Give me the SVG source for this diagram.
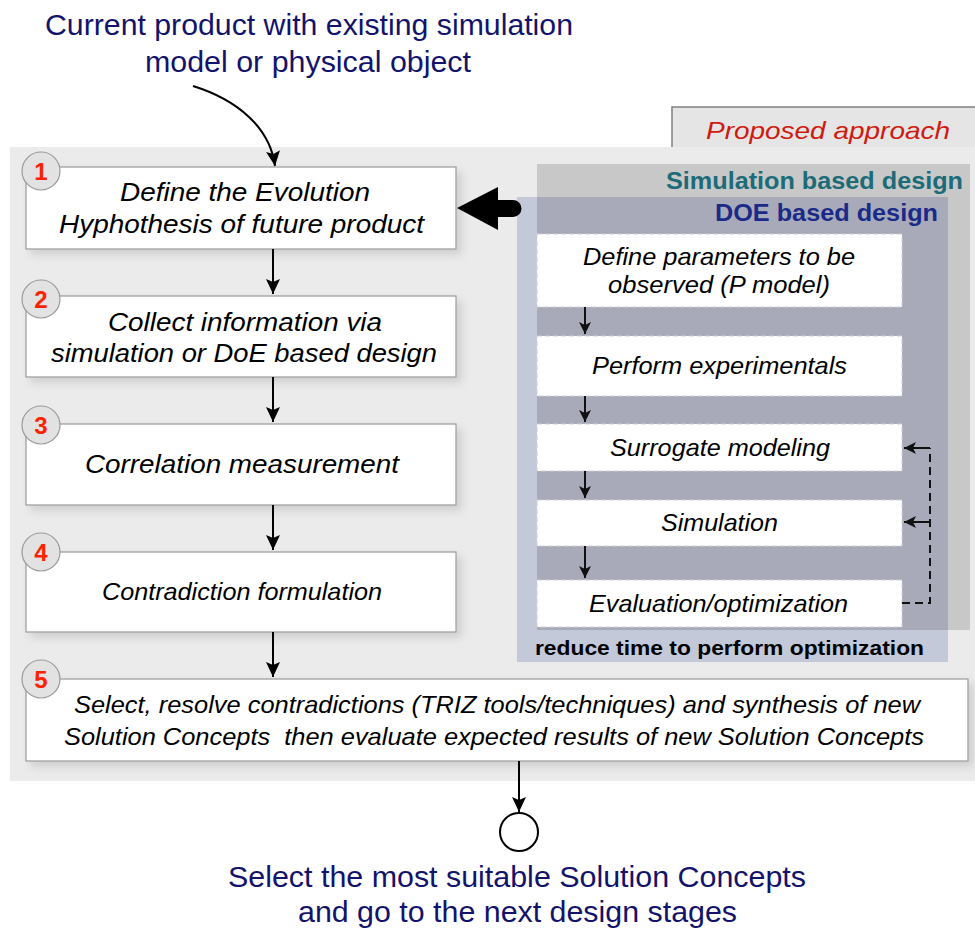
<svg xmlns="http://www.w3.org/2000/svg" width="975" height="928" viewBox="0 0 975 928">
<defs>
<filter id="sh" x="-10%" y="-20%" width="130%" height="150%">
<feDropShadow dx="5" dy="5" stdDeviation="4" flood-color="#000" flood-opacity="0.12"/>
</filter>
<marker id="ah" markerWidth="16" markerHeight="16" refX="15" refY="7" orient="auto" markerUnits="userSpaceOnUse">
<path d="M0,0 L15,7 L0,14 L3,7 Z" fill="#000"/>
</marker>
<marker id="ahs" markerWidth="14" markerHeight="14" refX="12" refY="6" orient="auto" markerUnits="userSpaceOnUse">
<path d="M0,0 L12,6 L0,12 L3,6 Z" fill="#111"/>
</marker>
</defs>
<style>
.t{font-family:"Liberation Sans",Arial,sans-serif}
.it{font-family:"Liberation Sans",Arial,sans-serif;font-style:italic;fill:#000}
.navy{fill:#13136b}
.box{fill:#fff;stroke:#9a9a9a;stroke-width:1.2}
.ibox{fill:#fff;stroke:#cfcfcf;stroke-width:1;stroke-dasharray:5 3}
.num{fill:#e2e2e2;stroke:#9a9a9a;stroke-width:1.2}
.numt{font-family:"Liberation Sans",Arial,sans-serif;font-weight:bold;font-size:24px;fill:#ff2200;text-anchor:middle}
.con{stroke:#000;stroke-width:2;fill:none}
.icon{stroke:#111;stroke-width:2;fill:none}
</style>

<!-- top label -->
<g id="input-label">
<text class="t navy" x="45" y="35" font-size="29" textLength="528" lengthAdjust="spacingAndGlyphs">Current product with existing simulation</text>
<text class="t navy" x="145" y="72" font-size="29" textLength="326" lengthAdjust="spacingAndGlyphs">model or physical object</text>
</g>

<!-- background panels -->
<g id="proposed-tab">
<rect x="672" y="107" width="310" height="45" fill="#e5e5e5"/>
<path d="M672,152 V107 H975" fill="none" stroke="#808080" stroke-width="1.5"/>
<text class="t" x="706" y="139" font-size="24" font-style="italic" fill="#d01a10" textLength="244" lengthAdjust="spacingAndGlyphs">Proposed approach</text>
</g>
<rect id="main-panel" x="10" y="147" width="965" height="634" fill="#ebebeb"/>

<g id="simulation-based-design">
<rect x="537" y="164" width="433" height="466" fill="#c8c8c8"/>
<text class="t" x="666" y="189" font-size="23" font-weight="bold" fill="#1c6b78" textLength="297" lengthAdjust="spacingAndGlyphs">Simulation based design</text>
</g>
<g id="doe-based-design">
<rect x="517" y="197" width="431" height="465" fill="#c4c9d9"/>
<rect x="537" y="197" width="411" height="433" fill="#a8aab9"/>
<text class="t" x="715" y="221" font-size="23" font-weight="bold" fill="#1a2a88" textLength="223" lengthAdjust="spacingAndGlyphs">DOE based design</text>
<text class="t" x="535" y="655" font-size="21" font-weight="bold" fill="#000" textLength="389" lengthAdjust="spacingAndGlyphs">reduce time to perform optimization</text>
</g>

<!-- left process boxes -->
<g id="step1">
<rect class="box" x="26" y="167" width="430" height="82" filter="url(#sh)"/>
<text class="it" x="120" y="201" font-size="26" textLength="250" lengthAdjust="spacingAndGlyphs">Define the Evolution</text>
<text class="it" x="59" y="233" font-size="26" textLength="365" lengthAdjust="spacingAndGlyphs">Hyphothesis of future product</text>
<circle class="num" cx="41" cy="171" r="19"/>
<text class="numt" x="41" y="180">1</text>
</g>
<g id="step2">
<rect class="box" x="26" y="296" width="430" height="81" filter="url(#sh)"/>
<text class="it" x="108" y="331" font-size="26" textLength="274" lengthAdjust="spacingAndGlyphs">Collect information via</text>
<text class="it" x="51" y="362" font-size="26" textLength="386" lengthAdjust="spacingAndGlyphs">simulation or DoE based design</text>
<circle class="num" cx="41" cy="299" r="19"/>
<text class="numt" x="41" y="308">2</text>
</g>
<g id="step3">
<rect class="box" x="26" y="424" width="430" height="81" filter="url(#sh)"/>
<text class="it" x="85" y="473" font-size="26" textLength="314" lengthAdjust="spacingAndGlyphs">Correlation measurement</text>
<circle class="num" cx="41" cy="425" r="19"/>
<text class="numt" x="41" y="434">3</text>
</g>
<g id="step4">
<rect class="box" x="26" y="552" width="430" height="80" filter="url(#sh)"/>
<text class="it" x="102" y="600" font-size="24" textLength="280" lengthAdjust="spacingAndGlyphs">Contradiction formulation</text>
<circle class="num" cx="41" cy="552" r="19"/>
<text class="numt" x="41" y="561">4</text>
</g>
<g id="step5">
<rect class="box" x="26" y="679" width="942" height="82" filter="url(#sh)"/>
<text class="it" x="74" y="713" font-size="24" textLength="846" lengthAdjust="spacingAndGlyphs">Select, resolve contradictions (TRIZ tools/techniques) and synthesis of new</text>
<text class="it" x="64" y="745" font-size="24" textLength="860" lengthAdjust="spacingAndGlyphs" xml:space="preserve">Solution Concepts  then evaluate expected results of new Solution Concepts</text>
<circle class="num" cx="41" cy="679" r="19"/>
<text class="numt" x="41" y="688">5</text>
</g>

<!-- DOE inner boxes -->
<g id="doe1">
<rect class="ibox" x="537" y="234" width="365" height="73"/>
<text class="it" x="583" y="265" font-size="24" textLength="272" lengthAdjust="spacingAndGlyphs">Define parameters to be</text>
<text class="it" x="608" y="293" font-size="24" textLength="222" lengthAdjust="spacingAndGlyphs">observed (P model)</text>
</g>
<g id="doe2">
<rect class="ibox" x="537" y="336" width="365" height="60"/>
<text class="it" x="592" y="374" font-size="24" textLength="255" lengthAdjust="spacingAndGlyphs">Perform experimentals</text>
</g>
<g id="doe3">
<rect class="ibox" x="537" y="424" width="365" height="47"/>
<text class="it" x="610" y="456" font-size="24" textLength="220" lengthAdjust="spacingAndGlyphs">Surrogate modeling</text>
</g>
<g id="doe4">
<rect class="ibox" x="537" y="500" width="365" height="46"/>
<text class="it" x="661" y="531" font-size="24" textLength="117" lengthAdjust="spacingAndGlyphs">Simulation</text>
</g>
<g id="doe5">
<rect class="ibox" x="537" y="580" width="365" height="47"/>
<text class="it" x="589" y="612" font-size="24" textLength="259" lengthAdjust="spacingAndGlyphs">Evaluation/optimization</text>
</g>

<!-- final node -->
<g id="end">
<circle cx="519" cy="832" r="19" fill="#fff" stroke="#000" stroke-width="2"/>
</g>
<g id="output-label">
<text class="t navy" x="228" y="887" font-size="29" textLength="578" lengthAdjust="spacingAndGlyphs">Select the most suitable Solution Concepts</text>
<text class="t navy" x="298" y="922" font-size="29" textLength="439" lengthAdjust="spacingAndGlyphs">and go to the next design stages</text>
</g>

<!-- connectors -->
<g id="connectors">
<path class="con" d="M193,86 C238,100 270,128 275,166" stroke-width="3" marker-end="url(#ah)"/>
<line class="con" x1="273" y1="249" x2="273" y2="294" marker-end="url(#ah)"/>
<line class="con" x1="273" y1="377" x2="273" y2="422" marker-end="url(#ah)"/>
<line class="con" x1="273" y1="505" x2="273" y2="550" marker-end="url(#ah)"/>
<line class="con" x1="273" y1="632" x2="273" y2="677" marker-end="url(#ah)"/>
<line class="con" x1="519" y1="761" x2="519" y2="812" marker-end="url(#ah)"/>
<line class="icon" x1="585" y1="307" x2="585" y2="334" marker-end="url(#ahs)"/>
<line class="icon" x1="585" y1="396" x2="585" y2="422" marker-end="url(#ahs)"/>
<line class="icon" x1="585" y1="471" x2="585" y2="498" marker-end="url(#ahs)"/>
<line class="icon" x1="585" y1="546" x2="585" y2="578" marker-end="url(#ahs)"/>
<path class="icon" d="M902,603 H930 V448" stroke-dasharray="8 5"/>
<line class="icon" x1="930" y1="448" x2="904" y2="448" marker-end="url(#ahs)"/>
<line class="icon" x1="930" y1="522" x2="904" y2="522" marker-end="url(#ahs)"/>
<path d="M457,208 L498,187 L498,200 L513,200 A8.5,8.5 0 0 1 513,217 L498,217 L498,230 Z" fill="#000"/>
</g>
</svg>
